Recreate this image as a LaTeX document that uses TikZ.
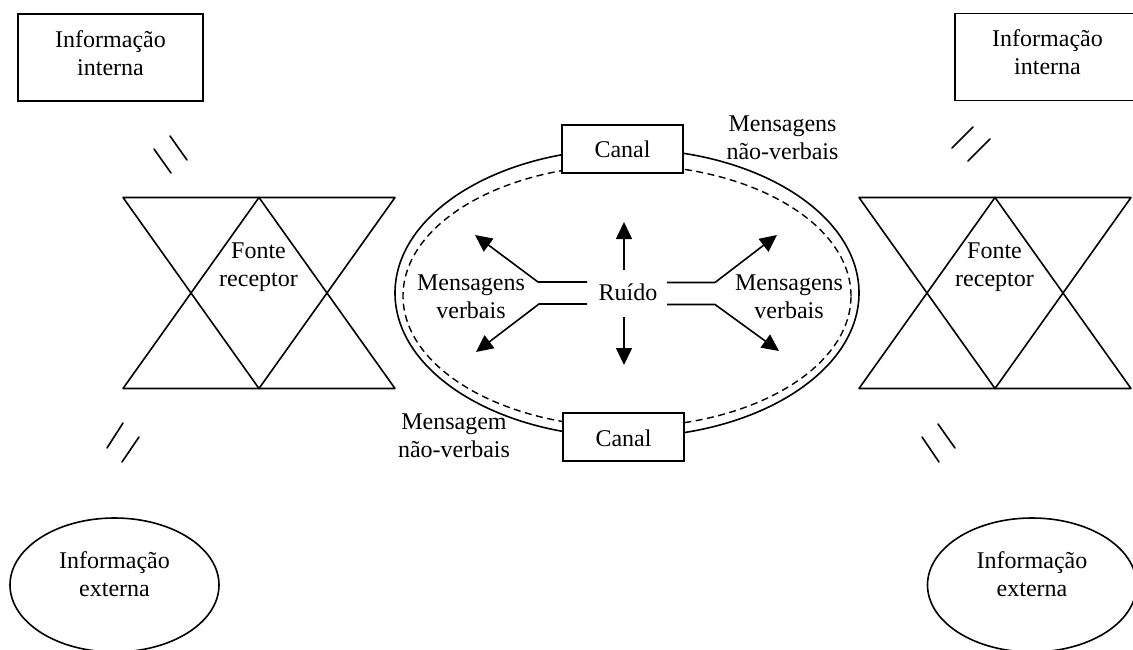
\documentclass[tikz,border=0pt]{standalone}
\usepackage{fontspec}
\setmainfont{Liberation Serif}
\usetikzlibrary{arrows.meta,shapes.geometric}
\tikzset{
  every node/.style={font=\fontsize{24}{28}\selectfont, align=center, inner sep=0pt, outer sep=0pt},
  ln/.style={line width=1.6pt, line cap=round, line join=round},
  slash/.style={line width=1.6pt, line cap=round},
  infobox/.style={draw, line width=1.6pt, rectangle, minimum width=185.5pt, minimum height=87pt, text depth=9.4pt},
  infoell/.style={draw, line width=1.6pt, ellipse, minimum width=209pt, minimum height=134pt, text depth=22.4pt},
  canalbox/.style={draw, line width=1.6pt, rectangle, fill=white, minimum width=121.5pt, minimum height=48pt, text height=18pt, text depth=0pt},
  lbl/.style={anchor=base},
  arr/.style={line width=1.6pt, -{Triangle[width=16pt,length=17pt]}},
}
\begin{document}
\begin{tikzpicture}[x=1pt,y=-1pt]
\useasboundingbox (0,0) rectangle (1133,650);
\clip (0,0) rectangle (1133,650);
% info boxes
\node[infobox] (il) at (110.5,57.5) {Informação\\interna};
\node[infobox] (ir) at (1047.5,57) {Informação\\interna};
\node[infoell] (el) at (114.5,585) {Informação\\externa};
\node[infoell] (er) at (1032,585) {Informação\\externa};
% hourglasses
\foreach \n/\ox in {l/123,r/859}{
  \coordinate (a\n) at (\ox,197.5);
  \coordinate (b\n) at (\ox+136,197.5);
  \coordinate (c\n) at (\ox+272,197.5);
  \coordinate (d\n) at (\ox,388.5);
  \coordinate (e\n) at (\ox+136,388.5);
  \coordinate (f\n) at (\ox+272,388.5);
  \draw[ln] (a\n) -- (c\n) -- (e\n) -- cycle;
  \draw[ln] (d\n) -- (f\n) -- (b\n) -- cycle;
}
\node[lbl] (fl) at (258.5,286) {Fonte\\receptor};
\node[lbl] (fr) at (994.5,286) {Fonte\\receptor};
% slashes
\foreach \n/\xa/\ya/\xb/\yb in {
  a/154/149/171/173, b/170/136/187/160,
  c/952/148/973/127, d/968/161/990/139,
  e/123/423/107/448, f/139/437/122/462,
  g/938/424/955/448, h/922/437/939/462}{
  \coordinate (s\n1) at (\xa,\ya);
  \coordinate (s\n2) at (\xb,\yb);
  \draw[slash] (s\n1) -- (s\n2);
}
% central ellipses
\node[draw, ellipse, line width=1.6pt, minimum width=464pt, minimum height=288pt] (outer) at (627,293) {};
\node[draw, ellipse, line width=1.4pt, dash pattern=on 7pt off 4.5pt, minimum width=448pt, minimum height=262pt] (inner) at (627,296) {};
\node[canalbox] (ct) at (622.5,149) {Canal};
\node[canalbox] (cb) at (623.5,437) {Canal};
% labels
\node[lbl] (mt) at (782.5,160) {Mensagens\\não-verbais};
\node[lbl] (mb) at (454,457) {Mensagem\\não-verbais};
\node[lbl] (vl) at (471,318) {Mensagens\\verbais};
\node[lbl] (vr) at (789,318) {Mensagens\\verbais};
\node[lbl] (ru) at (628,300) {Ruído};
% noise arrows
\coordinate (up0) at (624,270);   \coordinate (up1) at (624,222);
\coordinate (dn0) at (624,317);   \coordinate (dn1) at (624,365);
\draw[arr] (up0) -- (up1);
\draw[arr] (dn0) -- (dn1);
\coordinate (l1a) at (587,282); \coordinate (l1b) at (538,282); \coordinate (l1c) at (475,235);
\coordinate (l2a) at (587,304); \coordinate (l2b) at (539,304); \coordinate (l2c) at (476,352);
\coordinate (r1a) at (667,282.5); \coordinate (r1b) at (715,282.5); \coordinate (r1c) at (777,235);
\coordinate (r2a) at (667,304.5); \coordinate (r2b) at (715,304.5); \coordinate (r2c) at (779,351);
\draw[arr] (l1a) -- (l1b) -- (l1c);
\draw[arr] (l2a) -- (l2b) -- (l2c);
\draw[arr] (r1a) -- (r1b) -- (r1c);
\draw[arr] (r2a) -- (r2b) -- (r2c);
\end{tikzpicture}
\end{document}
